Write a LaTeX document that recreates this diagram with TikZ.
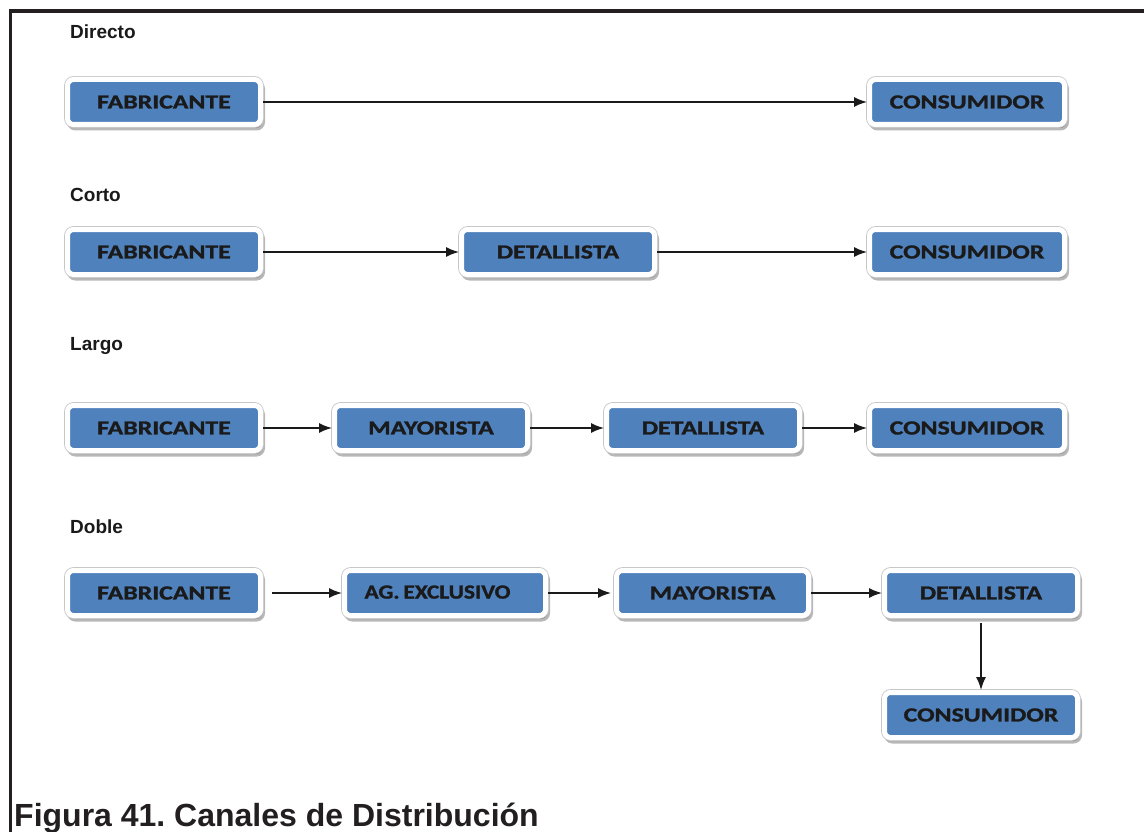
\documentclass[tikz,border=0pt]{standalone}
\usepackage{fontspec}
\usepackage{graphicx}
\setmainfont{Liberation Sans}
\newfontfamily\boxfont{Carlito}[BoldFeatures={FakeBold=1.2}]
\usetikzlibrary{shadows,arrows.meta}
\definecolor{boxblue}{HTML}{4F81BD}
\definecolor{ink}{HTML}{1A1A1A}
\definecolor{framegray}{HTML}{231F20}
% box labels are set wide
\newcommand\wide[2][1.29]{\scalebox{#1}[1]{#2}}

\begin{document}
\begin{tikzpicture}[x=1pt,y=-1pt,
  chan/.style={draw=white, line width=5pt, fill=boxblue, rounded corners=6pt,
    minimum height=45pt, minimum width=193pt, inner sep=0pt, text=ink,
    font=\boxfont\bfseries\fontsize{20}{24}\selectfont,
    drop shadow={shadow xshift=2pt, shadow yshift=-3.5pt, opacity=.5,
      fill=black!55, draw=black!55, line width=5pt},
    preaction={draw=black!22, line width=6.6pt}},
  heading/.style={anchor=base west, inner sep=0pt, text=ink,
    font=\bfseries\fontsize{19}{22}\selectfont},
  flow/.style={-{Latex[length=13pt,width=10pt]}, line width=1.5pt, draw=ink}]

\useasboundingbox (0,0) rectangle (1144,832);
\fill[white] (0,0) rectangle (1144,832);

% open frame: top and left sides
\draw[framegray, line width=3.5pt] (10.5,832) -- (10.5,11) -- (1144,11);

% Directo
\node[heading] (h1) at (70,39) {Directo};
\node[chan] (a1) at (164,102) {\wide{FABRICANTE}};
\node[chan, minimum width=195pt] (a2) at (967,102) {\wide{CONSUMIDOR}};
\draw[flow] (a1) -- (a2);

% Corto
\node[heading] (h2) at (70,202) {Corto};
\node[chan] (b1) at (164,252) {\wide{FABRICANTE}};
\node[chan] (b2) at (558,252) {\wide{DETALLISTA}};
\node[chan, minimum width=195pt] (b3) at (967,252) {\wide{CONSUMIDOR}};
\draw[flow] (b1) -- (b2);
\draw[flow] (b2) -- (b3);

% Largo
\node[heading] (h3) at (70,350) {Largo};
\node[chan] (c1) at (164,428) {\wide{FABRICANTE}};
\node[chan] (c2) at (431,428) {\wide{MAYORISTA}};
\node[chan] (c3) at (703,428) {\wide{DETALLISTA}};
\node[chan, minimum width=195pt] (c4) at (967,428) {\wide{CONSUMIDOR}};
\draw[flow] (c1) -- (c2);
\draw[flow] (c2) -- (c3);
\draw[flow] (c3) -- (c4);

% Doble
\node[heading] (h4) at (70,533) {Doble};
\node[chan] (e1) at (164,593) {\wide{FABRICANTE}};
\node[chan, minimum width=201pt] (e2) at (445,593)
  {\raisebox{2pt}{\wide[1.17]{AG.\,EXCLUSIVO}}\hspace*{15pt}};
\node[chan, minimum width=192pt] (e3) at (712.5,593) {\wide{MAYORISTA}};
\node[chan] (e4) at (981,593) {\wide{DETALLISTA}};
\node[chan] (e5) at (981,715) {\wide{CONSUMIDOR}};
\draw[flow, shorten <=9pt] (e1) -- (e2);
\draw[flow, shorten >=3pt] (e2) -- (e3);
\draw[flow] (e3) -- (e4);
\draw[flow, shorten <=5pt] (e4) -- (e5);

% caption
\node[anchor=base west, inner sep=0pt, text=framegray,
  font=\bfseries\fontsize{32}{36}\selectfont] (cap) at (14,826)
  {Figura 41.\ Canales de Distribución};
\end{tikzpicture}
\end{document}
